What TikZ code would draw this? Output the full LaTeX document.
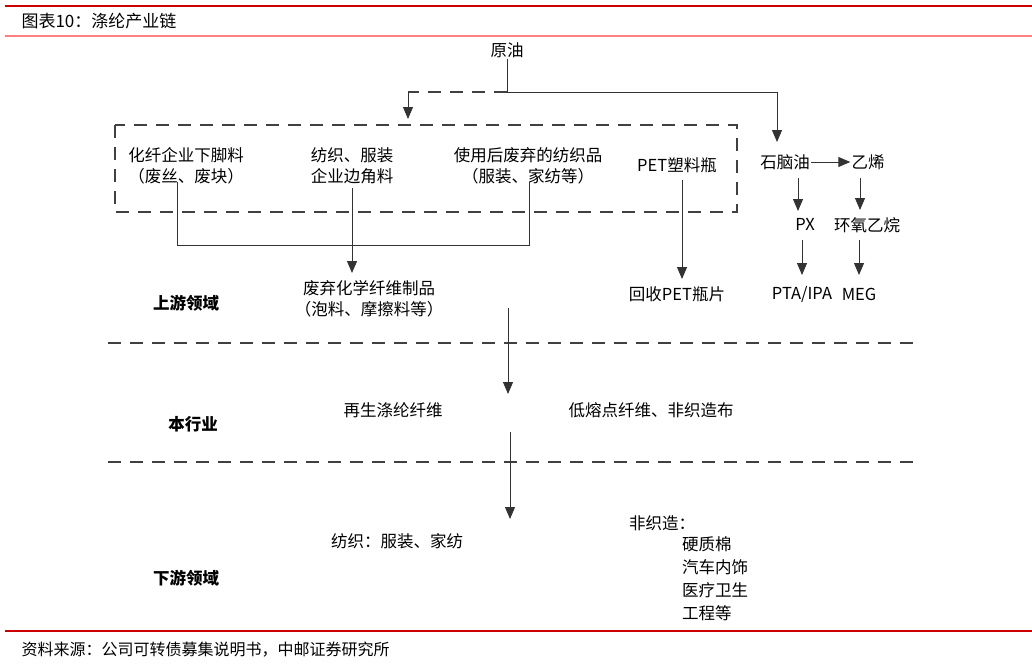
\documentclass[tikz,border=0pt]{standalone}
\usepackage{fontspec}
\setmainfont{Noto Sans CJK SC}
\usetikzlibrary{arrows.meta}
\begin{document}
\begin{tikzpicture}[x=1pt,y=-1pt,
  t/.style={font=\fontsize{16.5}{21}\selectfont,inner sep=1pt,align=center},
  b/.style={font=\fontsize{16.5}{20}\selectfont\bfseries,inner sep=1pt},
  ln/.style={line width=1pt,black!80},
  ar/.style={ln,-{Triangle[length=12pt,width=10pt]}},
  ds/.style={line width=1.1pt,black!75,dash pattern=on 13pt off 9pt}]
\useasboundingbox (0,0) rectangle (1032,665);
\draw[red!80!black,line width=2pt] (5,6) -- (1032,6);
\draw[red!50,line width=1.5pt] (5,36) -- (1032,36);
\draw[red!80!black,line width=1.2pt] (5,631) -- (1032,631);
\node[anchor=west,font=\fontsize{17}{20}\selectfont] (title) at (18,21) {图表10：涤纶产业链};
\node[anchor=west,font=\fontsize{16}{18}\selectfont] (src) at (18,650) {资料来源：公司可转债募集说明书，中邮证券研究所};
% top
\node[t] (oil) at (507,50) {原油};
\coordinate (j) at (507,92);
\coordinate (jl) at (408,92);
\coordinate (jr) at (777,92);
\draw[ln] (oil.south) -- (j);
\draw[ds] (j) -- (jl);
\draw[ar] (jl) -- (408,119);
\draw[ln] (j) -- (jr);
% box
\draw[ds] (115,125) rectangle (737,212);
\node[t] (a) at (186,166) {化纤企业下脚料\\（废丝、废块）};
\node[t] (bb) at (352,166) {纺织、服装\\企业边角料};
\node[t] (c) at (528,166) {使用后废弃的纺织品\\（服装、家纺等）};
\node[t] (pet) at (677,165) {PET塑料瓶};
\node[t] (waste) at (369,299) {废弃化学纤维制品\\（泡料、摩擦料等）};
\draw[ln] (177,182) -- (177,245) -- (529,245) -- (529,182);
\draw[ar] (352,188) -- (352,273);
\node[t] (rpet) at (677,294) {回收PET瓶片};
\draw[ar] (682,180) -- (682,279);
% right chain
\node[t] (nap) at (785,162) {石脑油};
\node[t] (eth) at (868,162) {乙烯};
\draw[ar] (jr) -- (777,142);
\draw[ar] (nap.east) -- (eth.west);
\node[t] (px) at (805,224) {PX};
\node[t] (eo) at (867,225) {环氧乙烷};
\node[t] (pta) at (802,294) {PTA/IPA};
\node[t] (meg) at (859,294) {MEG};
\draw[ar] (798,178) -- (798,211);
\draw[ar] (860,178) -- (860,210);
\draw[ar] (802,240) -- (802,275);
\draw[ar] (859,240) -- (859,275);
% bands
\node[b] (up) at (186,303) {上游领域};
\node[b] (mid) at (193,424) {本行业};
\node[b] (down) at (186,578) {下游领域};
\draw[ds] (108,343) -- (915,343);
\draw[ds] (108,462) -- (915,462);
\node[t] (rec) at (393,410) {再生涤纶纤维};
\node[t] (low) at (651,410) {低熔点纤维、非织造布};
\coordinate (m1) at (508,308);
\coordinate (m2) at (508,394);
\draw[ar] (m1) -- (m2);
\coordinate (m3) at (510,432);
\coordinate (m4) at (510,519);
\draw[ar] (m3) -- (m4);
\node[t] (tex) at (397,541) {纺织：服装、家纺};
\node[t,anchor=west] (nw) at (628,523) {非织造：};
\node[t,anchor=north west,align=left,font=\fontsize{16.5}{23}\selectfont] (nwl) at (681,535) {硬质棉\\汽车内饰\\医疗卫生\\工程等};
\end{tikzpicture}
\end{document}
